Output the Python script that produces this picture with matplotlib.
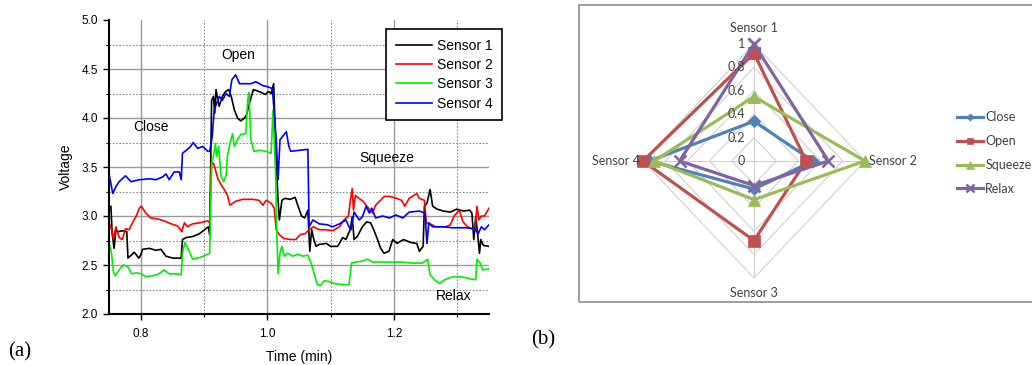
import matplotlib
matplotlib.use("Agg")
import matplotlib.pyplot as plt
import numpy as np
from matplotlib.ticker import MultipleLocator, FormatStrFormatter
from matplotlib.patches import Rectangle

# ---- panel (a): sensor voltages vs time ----
t1 = [0.75, 0.753, 0.755, 0.758, 0.761, 0.764, 0.772, 0.778, 0.78, 0.785, 0.79, 0.797, 0.8, 0.803,
      0.814, 0.824, 0.832, 0.84, 0.851, 0.864, 0.866, 0.872, 0.882, 0.893, 0.903, 0.907, 0.909, 0.912,
      0.915, 0.917, 0.919, 0.922, 0.924, 0.929, 0.934, 0.939, 0.943, 0.948, 0.953, 0.958, 0.964, 0.967,
      0.973, 0.978, 0.987, 0.997, 1.002, 1.006, 1.01, 1.014, 1.017, 1.019, 1.023, 1.028, 1.036, 1.044,
      1.048, 1.054, 1.059, 1.064, 1.067, 1.07, 1.073, 1.077, 1.082, 1.093, 1.10, 1.111, 1.119, 1.124,
      1.128, 1.131, 1.134, 1.137, 1.142, 1.15, 1.157, 1.163, 1.168, 1.174, 1.179, 1.184, 1.192, 1.198,
      1.205, 1.215, 1.226, 1.236, 1.24, 1.246, 1.248, 1.252, 1.257, 1.261, 1.268, 1.278, 1.289, 1.299,
      1.31, 1.319, 1.323, 1.326, 1.329, 1.332, 1.335, 1.337, 1.341, 1.35]
v1 = [3.08, 3.10, 2.82, 2.67, 2.86, 2.84, 2.85, 2.84, 2.57, 2.60, 2.63, 2.57, 2.60, 2.66,
      2.67, 2.65, 2.66, 2.59, 2.57, 2.57, 2.76, 2.78, 2.79, 2.82, 2.87, 2.89, 2.81, 4.18,
      4.22, 4.05, 4.29, 4.18, 4.12, 4.22, 4.27, 4.29, 4.22, 4.08, 4.00, 3.97, 4.00, 4.03,
      4.18, 4.29, 4.27, 4.24, 4.27, 4.25, 4.35, 3.57, 3.16, 2.96, 3.16, 3.18, 3.17, 3.19,
      3.11, 3.00, 2.98, 3.06, 2.64, 2.86, 2.77, 2.69, 2.71, 2.72, 2.69, 2.69, 2.78, 2.76,
      2.82, 2.86, 2.99, 2.76, 2.79, 2.89, 2.94, 2.93, 2.86, 2.76, 2.67, 2.62, 2.64, 2.76,
      2.72, 2.76, 2.73, 2.72, 2.64, 2.69, 3.10, 3.13, 3.27, 3.10, 3.07, 3.05, 3.04, 3.07,
      3.05, 3.06, 3.03, 2.76, 2.99, 2.82, 2.62, 2.76, 2.70, 2.69]

t2 = [0.75, 0.754, 0.757, 0.761, 0.766, 0.771, 0.776, 0.782, 0.787, 0.793, 0.798, 0.801, 0.808,
      0.816, 0.827, 0.837, 0.848, 0.858, 0.865, 0.869, 0.874, 0.882, 0.893, 0.906, 0.909, 0.912,
      0.915, 0.918, 0.922, 0.927, 0.932, 0.937, 0.941, 0.95, 0.961, 0.977, 0.987, 0.993, 0.998,
      1.006, 1.011, 1.014, 1.019, 1.026, 1.037, 1.045, 1.052, 1.06, 1.066, 1.073, 1.082, 1.092,
      1.103, 1.114, 1.121, 1.128, 1.131, 1.134, 1.136, 1.139, 1.145, 1.151, 1.156, 1.16, 1.166,
      1.171, 1.177, 1.185, 1.193, 1.204, 1.212, 1.217, 1.224, 1.229, 1.236, 1.24, 1.248, 1.251,
      1.257, 1.266, 1.282, 1.289, 1.295, 1.303, 1.309, 1.316, 1.323, 1.328, 1.331, 1.334, 1.338,
      1.343, 1.35]
v2 = [2.93, 2.86, 2.77, 2.89, 2.78, 2.76, 2.87, 2.86, 2.93, 3.00, 3.08, 3.10, 3.03,
      2.98, 2.97, 2.95, 2.92, 2.90, 2.84, 2.93, 2.89, 2.92, 2.93, 2.95, 2.93, 3.54,
      3.54, 3.47, 3.38, 3.32, 3.27, 3.21, 3.11, 3.15, 3.17, 3.17, 3.16, 3.11, 3.16,
      3.13, 3.08, 2.86, 2.81, 2.77, 2.76, 2.76, 2.81, 2.82, 2.86, 2.89, 2.86, 2.86,
      2.85, 2.89, 2.96, 3.00, 3.15, 3.28, 3.06, 3.21, 3.18, 3.15, 3.11, 3.08, 3.03,
      3.11, 3.15, 3.20, 3.20, 3.18, 3.16, 3.10, 3.18, 3.20, 3.23, 3.18, 3.16, 2.93,
      2.92, 2.89, 2.89, 2.91, 3.00, 3.06, 2.94, 2.89, 2.87, 2.86, 3.10, 2.96, 3.00,
      3.00, 3.08]

t3 = [0.75, 0.754, 0.757, 0.76, 0.766, 0.773, 0.78, 0.786, 0.793, 0.801, 0.808, 0.819, 0.829,
      0.837, 0.845, 0.856, 0.864, 0.866, 0.87, 0.876, 0.882, 0.89, 0.899, 0.906, 0.909, 0.912,
      0.915, 0.918, 0.92, 0.923, 0.927, 0.931, 0.935, 0.937, 0.941, 0.945, 0.948, 0.953, 0.958,
      0.966, 0.969, 0.971, 0.974, 0.979, 0.987, 0.998, 1.006, 1.009, 1.013, 1.015, 1.017, 1.02,
      1.023, 1.027, 1.032, 1.04, 1.048, 1.056, 1.064, 1.069, 1.074, 1.079, 1.084, 1.09, 1.098,
      1.106, 1.119, 1.129, 1.133, 1.14, 1.15, 1.158, 1.166, 1.182, 1.198, 1.213, 1.229, 1.245,
      1.253, 1.257, 1.264, 1.272, 1.28, 1.293, 1.306, 1.319, 1.329, 1.331, 1.336, 1.34, 1.35]
v3 = [2.73, 2.62, 2.43, 2.39, 2.45, 2.50, 2.48, 2.41, 2.42, 2.41, 2.38, 2.39, 2.41,
      2.45, 2.41, 2.41, 2.40, 2.62, 2.73, 2.65, 2.56, 2.57, 2.59, 2.61, 2.62, 3.54,
      3.61, 3.74, 3.61, 3.71, 3.40, 3.35, 3.42, 3.61, 3.74, 3.84, 3.71, 3.78, 3.83,
      3.84, 4.18, 4.26, 3.78, 3.66, 3.67, 3.66, 3.64, 4.08, 3.44, 2.82, 2.41, 2.62,
      2.69, 2.59, 2.62, 2.59, 2.61, 2.59, 2.60, 2.52, 2.41, 2.30, 2.29, 2.34, 2.33,
      2.31, 2.30, 2.30, 2.52, 2.53, 2.54, 2.56, 2.53, 2.53, 2.53, 2.53, 2.52, 2.52,
      2.56, 2.40, 2.35, 2.31, 2.35, 2.38, 2.38, 2.36, 2.35, 2.56, 2.52, 2.45, 2.46]

t4 = [0.75, 0.756, 0.761, 0.766, 0.776, 0.785, 0.798, 0.814, 0.824, 0.835, 0.84, 0.845, 0.853,
      0.861, 0.864, 0.866, 0.872, 0.879, 0.883, 0.89, 0.898, 0.906, 0.909, 0.913, 0.916, 0.92,
      0.924, 0.929, 0.935, 0.94, 0.944, 0.95, 0.956, 0.966, 0.974, 0.982, 0.993, 1.0, 1.008,
      1.014, 1.017, 1.02, 1.024, 1.03, 1.034, 1.037, 1.05, 1.064, 1.066, 1.072, 1.082, 1.095,
      1.103, 1.114, 1.124, 1.129, 1.132, 1.137, 1.145, 1.15, 1.156, 1.161, 1.165, 1.171, 1.182,
      1.193, 1.203, 1.214, 1.224, 1.24, 1.249, 1.252, 1.255, 1.261, 1.277, 1.293, 1.314, 1.327,
      1.333, 1.338, 1.343, 1.35]
v4 = [3.43, 3.23, 3.30, 3.35, 3.41, 3.35, 3.37, 3.38, 3.37, 3.40, 3.43, 3.37, 3.45,
      3.45, 3.37, 3.64, 3.67, 3.71, 3.75, 3.69, 3.71, 3.66, 3.66, 3.81, 4.08, 4.15,
      4.22, 4.18, 4.25, 4.22, 4.39, 4.44, 4.35, 4.35, 4.35, 4.37, 4.33, 4.32, 4.30,
      3.78, 3.37, 3.78, 3.81, 3.86, 3.71, 3.66, 3.67, 3.68, 2.89, 2.96, 2.92, 2.91,
      2.89, 2.92, 2.96, 2.89, 2.86, 3.04, 2.96, 2.99, 3.10, 3.03, 3.08, 2.98, 3.00,
      2.98, 3.01, 2.98, 3.04, 3.05, 3.03, 2.72, 2.93, 2.89, 2.89, 2.88, 2.88, 2.87,
      2.82, 2.89, 2.86, 2.91]

sensor_names = ["Sensor 1", "Sensor 2", "Sensor 3", "Sensor 4"]
sensor_colors = ["black", "red", "#00ee00", "blue"]

states = ["Close", "Open", "Squeeze", "Relax"]
state_pos = [(0.816, 3.91), (0.954, 4.64), (1.188, 3.59), (1.294, 2.18)]

# ---- panel (b): normalised radar values, order Sensor 1..4 ----
radar_close = [0.34, 0.53, 0.24, 0.94]
radar_open = [0.92, 0.47, 0.68, 1.0]
radar_squeeze = [0.55, 1.0, 0.33, 0.90]
radar_relax = [1.0, 0.67, 0.21, 0.67]
radar_colors = ["#4F81BD", "#C0504D", "#9BBB59", "#8064A2"]
radar_markers = ["D", "s", "^", "x"]
radar_msize = [6, 8, 8.5, 9]
radar_ticks = [0, 0.2, 0.4, 0.6, 0.8, 1.0]
radar_ticklabels = ["0", "0.2", "0.4", "0.6", "0.8", "1"]

W, H = 1032, 365
fig = plt.figure(figsize=(W / 100, H / 100), dpi=100)
plt.rcParams['font.family'] = ['Liberation Sans', 'DejaVu Sans']

ax = fig.add_axes([109 / W, 1 - 314 / H, 380 / W, 294 / H])
ax.set_xlim(0.75, 1.35)
ax.set_ylim(2.0, 5.0)
for x in [0.8, 1.0, 1.2]:
    ax.axvline(x, color="#999999", lw=1.0, zorder=0)
for x in [0.9, 1.1, 1.3]:
    ax.axvline(x, color="#888888", lw=0.8, ls=(0, (1.5, 1.5)), zorder=0)
for y in [2.5, 3.0, 3.5, 4.0, 4.5]:
    ax.axhline(y, color="#999999", lw=1.0, zorder=0)
for y in [2.25, 2.75, 3.25, 3.75, 4.25, 4.75]:
    ax.axhline(y, color="#888888", lw=0.8, ls=(0, (1.5, 1.5)), zorder=0)

series = [(t1, v1), (t2, v2), (t3, v3), (t4, v4)]
for (t, v), name, c in zip(series, sensor_names, sensor_colors):
    ax.plot(t, v, color=c, lw=1.2, label=name)

for name, (x, y) in zip(states, state_pos):
    ax.text(x, y, name, fontsize=10, ha="center", va="center")

ax.spines["top"].set_visible(False)
ax.spines["right"].set_visible(False)
ax.spines["left"].set_linewidth(1.5)
ax.spines["bottom"].set_linewidth(1.5)
ax.xaxis.set_major_locator(MultipleLocator(0.2))
ax.xaxis.set_minor_locator(MultipleLocator(0.1))
ax.yaxis.set_major_locator(MultipleLocator(0.5))
ax.yaxis.set_minor_locator(MultipleLocator(0.25))
ax.xaxis.set_major_formatter(FormatStrFormatter("%.1f"))
ax.yaxis.set_major_formatter(FormatStrFormatter("%.1f"))
ax.tick_params(which="major", direction="out", length=4, width=1, labelsize=8.5, pad=4)
ax.tick_params(axis="x", which="major", pad=6)
ax.tick_params(which="minor", direction="out", length=2.5, width=0.8)
ax.set_xlabel("Time (min)", fontsize=10, labelpad=7)
ax.set_ylabel("Voltage", fontsize=10, labelpad=6)

leg = ax.legend(loc="upper left", bbox_to_anchor=(386 / W, 1 - 29 / H),
                bbox_transform=fig.transFigure, fontsize=10, fancybox=False,
                edgecolor="black", framealpha=1, handlelength=2.6, handletextpad=0.35,
                labelspacing=0.38, borderpad=0.7, borderaxespad=0)
leg.get_frame().set_linewidth(1.2)

fig.text(20 / W, 1 - 352 / H, "(a)", fontsize=15, family="Liberation Serif", ha="center", va="center")
fig.text(543 / W, 1 - 340 / H, "(b)", fontsize=15, family="Liberation Serif", ha="center", va="center")

# ---- radar panel ----
fig.add_artist(Rectangle((579 / W, 1 - 302 / H), (W + 5 - 579) / W, (302 - 5) / H,
                         transform=fig.transFigure, fill=False, edgecolor="#8c8c8c", lw=1.2))

rx = fig.add_axes([643 / W, 1 - 278 / H, 222 / W, 234 / H])
rx.set_xlim(-1, 1)
rx.set_ylim(-1, 1)
rx.axis("off")

ang = np.array([0, 0.5, 1.0, 1.5]) * np.pi  # Sensor 1 top, clockwise
ang_c = np.append(ang, ang[0])
sx, sy = np.sin(ang_c), np.cos(ang_c)

for r in radar_ticks[1:]:
    rx.plot(r * sx, r * sy, color="#d0d0d0", lw=0.8, zorder=0)
for a in ang:
    rx.plot([0, np.sin(a)], [0, np.cos(a)], color="#d0d0d0", lw=0.8, zorder=0)

radar_data = [radar_close, radar_open, radar_squeeze, radar_relax]
for vals, lab, c, m, ms in zip(radar_data, states, radar_colors, radar_markers, radar_msize):
    r = np.append(vals, vals[0])
    rx.plot(r * sx, r * sy, color=c, lw=2.3, marker=m, ms=ms,
            mew=1.8 if m == "x" else 0.5, clip_on=False, label=lab)

rfont = ["Lato", "DejaVu Sans"]
for r, lab in zip(radar_ticks, radar_ticklabels):
    rx.text(-0.08, r, lab, fontsize=9, ha="right", va="center", color="#404040", family=rfont)

rx.text(0, 1.14, sensor_names[0], fontsize=9, ha="center", va="center", color="#404040", family=rfont)
rx.text(1.04, 0, sensor_names[1], fontsize=9, ha="left", va="center", color="#404040", family=rfont)
rx.text(0, -1.13, sensor_names[2], fontsize=9, ha="center", va="center", color="#404040", family=rfont)
rx.text(-1.03, 0, sensor_names[3], fontsize=9, ha="right", va="center", color="#404040", family=rfont)

h, l = rx.get_legend_handles_labels()
rleg = fig.legend(h, l, loc="center left", bbox_to_anchor=(957 / W, 1 - 153 / H),
                  frameon=False, prop={"family": rfont, "size": 9}, markerscale=0.6,
                  handlelength=2.1, handletextpad=0.15, labelspacing=0.95,
                  borderpad=0, borderaxespad=0)
for t in rleg.get_texts():
    t.set_color("#404040")

fig.savefig("out.png", dpi=100)
